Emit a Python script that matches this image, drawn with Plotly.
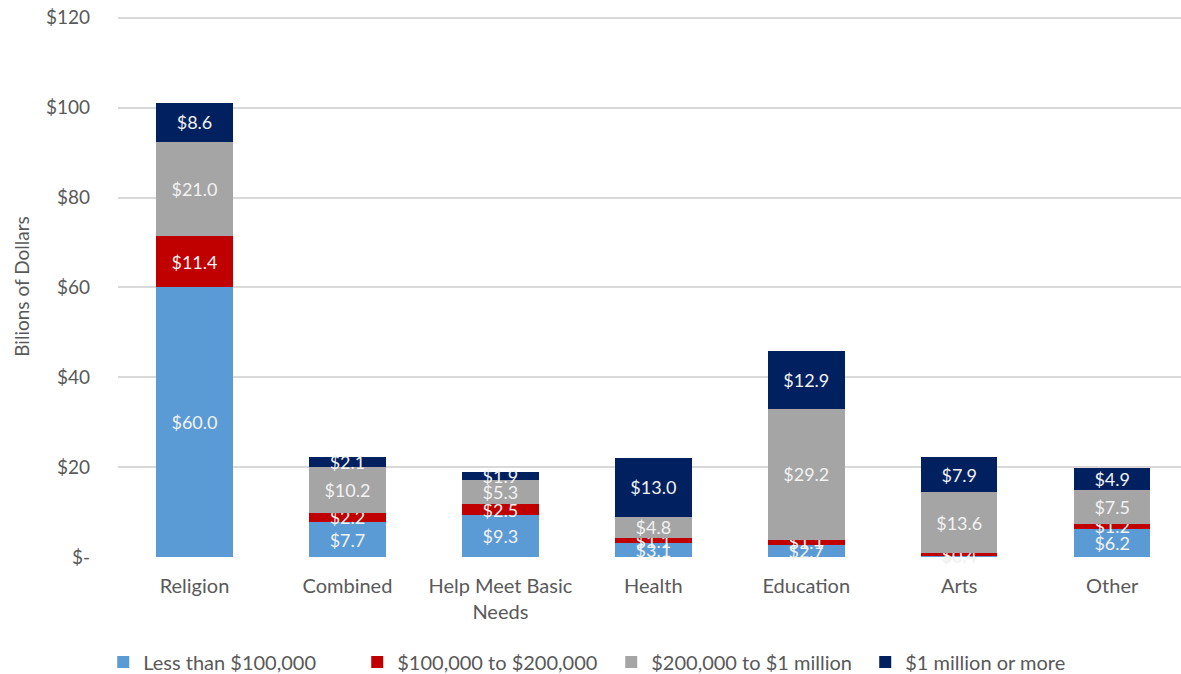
import plotly.graph_objects as go

categories = ["Religion", "Combined", "Help Meet Basic<br>Needs", "Health", "Education", "Arts", "Other"]
series_names = ["Less than $100,000", "$100,000 to $200,000", "$200,000 to $1 million", "$1 million or more"]
less_100k = [60.0, 7.7, 9.3, 3.1, 2.7, 0.4, 6.2]
k100_200 = [11.4, 2.2, 2.5, 1.1, 1.1, 0.4, 1.2]
k200_1m = [21.0, 10.2, 5.3, 4.8, 29.2, 13.6, 7.5]
m1_plus = [8.6, 2.1, 1.9, 13.0, 12.9, 7.9, 4.9]
colors = ["#5B9BD5", "#C00000", "#A5A5A5", "#002060"]
y_tickvals = [0, 20, 40, 60, 80, 100, 120]
y_ticktext = ["$-", "$20", "$40", "$60", "$80", "$100", "$120"]

FONT = "Lato, Open Sans, sans-serif"
fig = go.Figure()
for name, vals, col in zip(series_names, [less_100k, k100_200, k200_1m, m1_plus], colors):
    fig.add_trace(go.Bar(
        x=list(range(len(categories))), y=vals, name=name,
        marker=dict(color=col, line=dict(width=0)),
        text=[f"${v:.1f}" for v in vals],
        textposition="inside", insidetextanchor="middle", textangle=0,
        textfont=dict(color="#F2F2F2", size=18, family=FONT),
        cliponaxis=False, constraintext="none",
    ))

fig.update_layout(
    barmode="stack", bargap=0.5,
    width=1181, height=674,
    margin=dict(l=118, r=0, t=16, b=117),
    plot_bgcolor="white", paper_bgcolor="white",
    font=dict(family=FONT, size=20, color="#595959"),
    uniformtext=dict(minsize=18, mode="show"),
    xaxis=dict(tickmode="array", tickvals=list(range(len(categories))), ticktext=categories,
               range=[-0.5, 6.45], showgrid=False, zeroline=False, showline=False, ticks="",
               ticklabelstandoff=15, tickfont=dict(size=20)),
    yaxis=dict(range=[0, 120.4], tickvals=y_tickvals, ticktext=y_ticktext,
               showgrid=True, gridcolor="#D9D9D9", gridwidth=2, zeroline=False,
               ticklabelstandoff=27, tickfont=dict(size=19),
               title=dict(text="Bilions of Dollars", standoff=11, font=dict(size=19))),
    legend=dict(orientation="h", x=0.464, xanchor="center", xref="paper",
                y=1 - 662 / 674, yanchor="middle", yref="container",
                font=dict(size=20), traceorder="normal", itemwidth=30,
                entrywidth=209, entrywidthmode="pixels"),
    showlegend=True,
)

fig.write_html("out.html", config={"displayModeBar": False},
               post_script="document.body.style.margin='0';document.body.style.padding='0';")
